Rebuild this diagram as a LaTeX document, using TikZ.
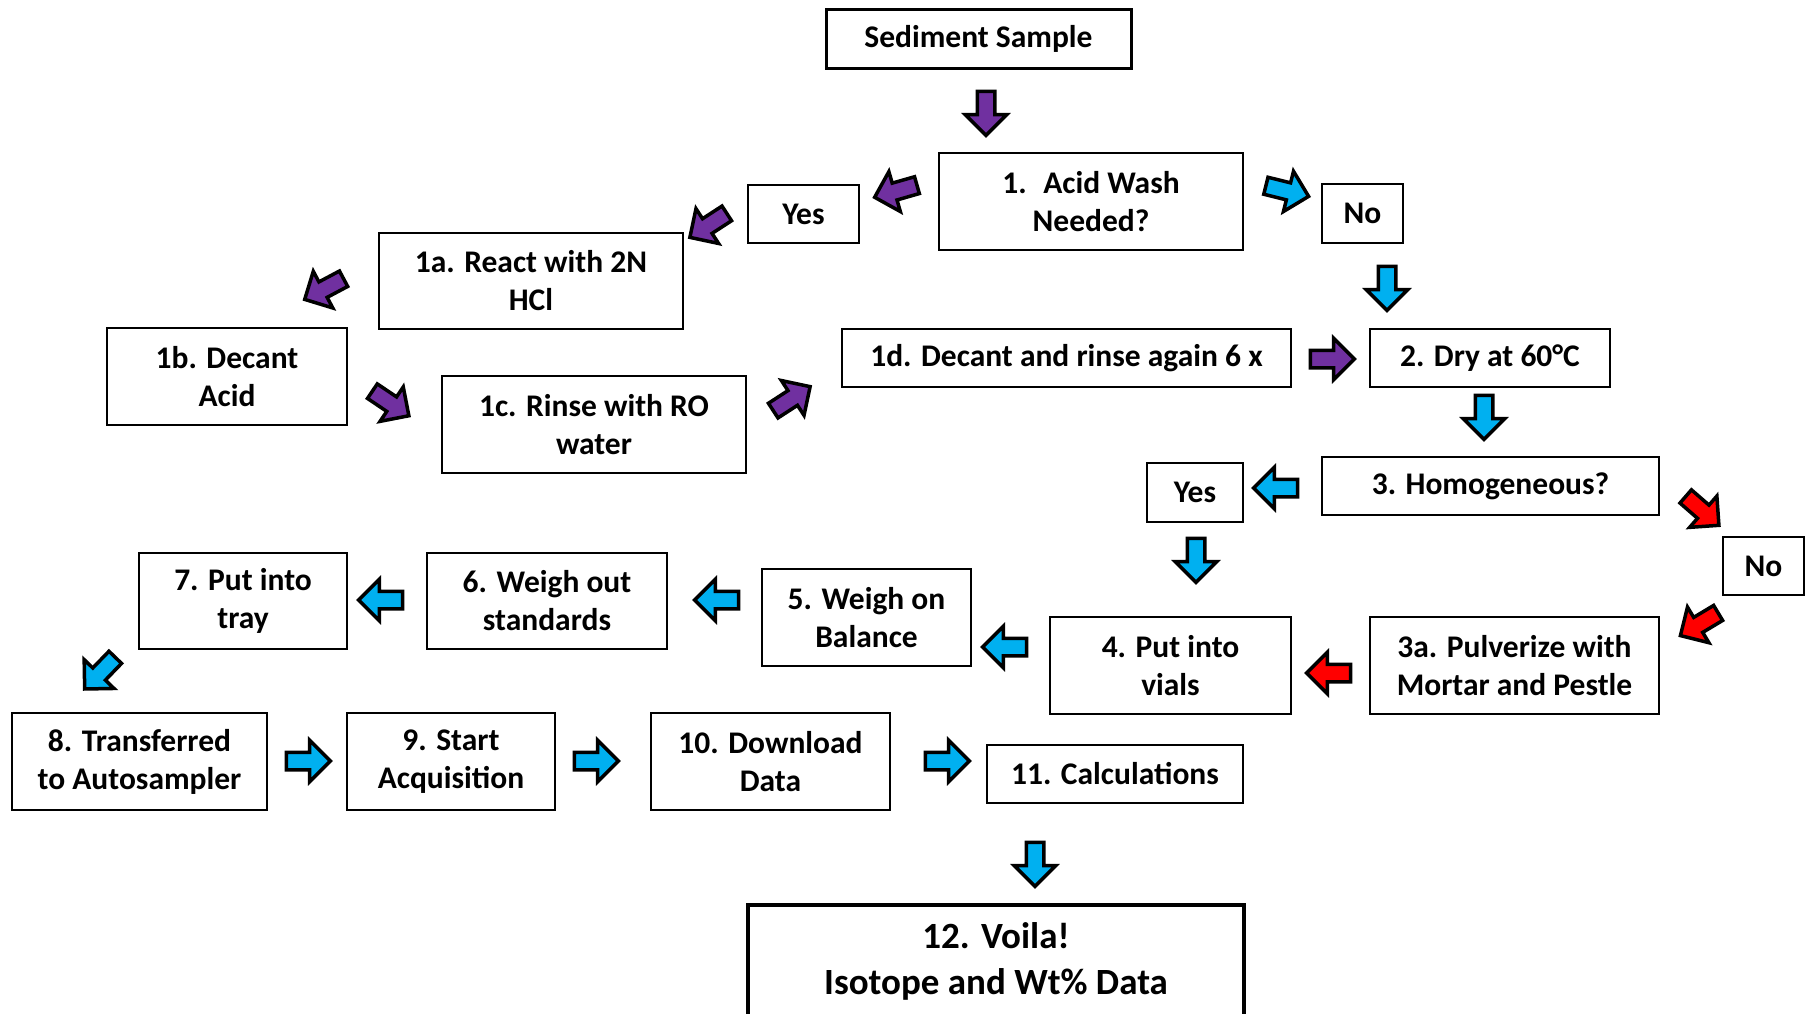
\documentclass[tikz,border=0pt]{standalone}
\usepackage{fontspec}
\setmainfont{Carlito}
\usetikzlibrary{shapes.arrows}
\definecolor{washpurple}{HTML}{7030A0}
\definecolor{flowblue}{HTML}{00B0F0}
\definecolor{flowred}{HTML}{FF0000}
\tikzset{
  box/.style={draw,line width=2.5pt,align=center,inner sep=0pt,
    font=\fontsize{31.5}{38}\selectfont\bfseries},
  sz/.style 2 args={minimum width=#1pt,minimum height=#2pt},
  flow/.style={single arrow,draw=black,line width=3.5pt,fill=#1,
    inner xsep=4pt,inner ysep=7pt,minimum height=44pt,minimum width=38pt,
    single arrow head extend=12pt},
}
\begin{document}
\begin{tikzpicture}[x=1pt,y=-1pt]
\useasboundingbox (0,0) rectangle (1806,1013);
% steps
\node[box,line width=3pt,sz={305}{59}] (ss) at (978.5,38.5) {Sediment Sample};
\node[box,sz={304}{97}] (q1) at (1091,201.5) {1.~ Acid Wash\\Needed?};
\node[box,sz={111}{58}] (yes1) at (803.5,214) {Yes};
\node[box,sz={81}{59}] (no1) at (1362.5,213.5) {No};
\node[box,sz={304}{96}] (s1a) at (531,281) {1a. React with 2N\\HCl};
\node[box,sz={240}{97}] (s1b) at (227,376.5) {1b. Decant\\Acid};
\node[box,sz={304}{97}] (s1c) at (594,424.5) {1c. Rinse with RO\\water};
\node[box,sz={449}{58}] (s1d) at (1066.5,358) {1d. Decant and rinse again 6 x};
\node[box,sz={240}{58}] (s2) at (1490,358) {2. Dry at 60°C};
\node[box,sz={337}{58}] (s3) at (1490.5,486) {3. Homogeneous?};
\node[box,sz={96}{59}] (yes3) at (1195,492.5) {Yes};
\node[box,sz={81}{58}] (no3) at (1763.5,566) {No};
\node[box,sz={289}{97}] (s3a) at (1514.5,665.5) {3a. Pulverize with\\Mortar and Pestle};
\node[box,sz={241}{97}] (s4) at (1170.5,665.5) {4. Put into\\vials};
\node[box,sz={209}{97}] (s5) at (866.5,617.5) {5. Weigh on\\Balance};
\node[box,sz={240}{96}] (s6) at (547,601) {6. Weigh out\\standards};
\node[box,sz={208}{96}] (s7) at (243,601) {7. Put into\\tray};
\node[box,sz={255}{97}] (s8) at (139.5,761.5) {8. Transferred\\to Autosampler};
\node[box,sz={208}{97}] (s9) at (451,761.5) {9. Start\\Acquisition};
\node[box,sz={239}{97}] (s10) at (770.5,761.5) {10. Download\\Data};
\node[box,sz={256}{58}] (s11) at (1115,774) {11. Calculations};
\node[box,line width=3.5pt,sz={496}{112},font=\fontsize{37}{46}\selectfont\bfseries]
  (s12) at (996,961) {12. Voila!\\Isotope and Wt\% Data};
% block arrows
\node[flow=washpurple,rotate=-90] (a0) at (986,109) {};
\node[flow=washpurple,rotate=196] (a1) at (900,190) {};
\node[flow=washpurple,rotate=213] (a2) at (712,223) {};
\node[flow=washpurple,rotate=208] (a3) at (328,287) {};
\node[flow=washpurple,rotate=-34] (a4) at (387,401) {};
\node[flow=washpurple,rotate=33] (a5) at (788,401) {};
\node[flow=washpurple] (a6) at (1328,359) {};
\node[flow=flowblue,rotate=-14] (a7) at (1283,190) {};
\node[flow=flowblue,rotate=-90] (a8) at (1387,284) {};
\node[flow=flowblue,rotate=-90] (a9) at (1484,413) {};
\node[flow=flowblue,rotate=180] (a10) at (1280,488) {};
\node[flow=flowblue,rotate=-90] (a11) at (1196,556) {};
\node[flow=flowred,rotate=-41] (a12) at (1699,508) {};
\node[flow=flowred,rotate=211] (a13) at (1703,622) {};
\node[flow=flowred,rotate=180] (a14) at (1333,673) {};
\node[flow=flowblue,rotate=180] (a15) at (1009,647) {};
\node[flow=flowblue,rotate=180] (a16) at (721,600) {};
\node[flow=flowblue,rotate=180] (a17) at (385,600) {};
\node[flow=flowblue,rotate=226] (a18) at (103,670) {};
\node[flow=flowblue] (a19) at (304,761) {};
\node[flow=flowblue] (a20) at (592,761) {};
\node[flow=flowblue] (a21) at (943,761) {};
\node[flow=flowblue,rotate=-90] (a22) at (1035,860) {};
\end{tikzpicture}
\end{document}
